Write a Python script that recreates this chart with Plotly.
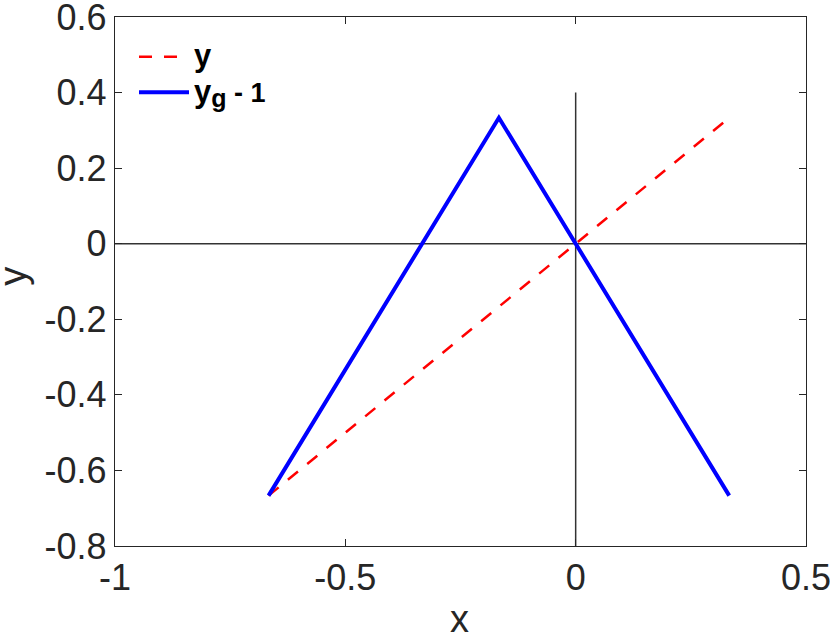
import plotly.graph_objects as go

# data
x_y = [-2/3, 1/3]
y_y = [-2/3, 1/3]
x_g = [-2/3, -1/6, 1/3]
y_g = [-2/3, 1/3, -2/3]
vline_x = [0, 0]
vline_y = [0.4, -0.8]
hline_x = [-1, 0.5]
hline_y = [0, 0]
xticks = [-1, -0.5, 0, 0.5]
yticks = [-0.8, -0.6, -0.4, -0.2, 0, 0.2, 0.4, 0.6]

font_tick = "Liberation Sans, Arial, Helvetica"

fig = go.Figure()
fig.add_trace(go.Scatter(x=hline_x, y=hline_y, mode="lines",
                         line=dict(color="#333333", width=1.5), showlegend=False, hoverinfo="skip"))
fig.add_trace(go.Scatter(x=vline_x, y=vline_y, mode="lines",
                         line=dict(color="#333333", width=1.5), showlegend=False, hoverinfo="skip"))
fig.add_trace(go.Scatter(x=x_y, y=y_y, mode="lines",
                         name="<b><span style='font-size:31px'>y</span></b>",
                         line=dict(color="#ff0000", width=2.5, dash="13px,12px")))
fig.add_trace(go.Scatter(x=x_g, y=y_g, mode="lines",
                         name="<b><span style='font-size:31px'>y</span><sub><span style='font-size:25px'>g</span></sub><span style='font-size:27px'> - 1</span></b>",
                         line=dict(color="#0000ff", width=4)))

axis_common = dict(showline=True, linecolor="#262626", linewidth=1.3, mirror="ticks",
                   ticks="inside", ticklen=7, tickcolor="#262626", tickwidth=1,
                   showgrid=False, zeroline=False, automargin=False,
                   ticklabeloverflow="allow",
                   tickfont=dict(family=font_tick, size=36, color="#262626"))

fig.update_xaxes(range=[-1, 0.5], tickvals=xticks, ticktext=[f"{v:g}" for v in xticks],
                 **axis_common)
fig.update_yaxes(range=[-0.8, 0.6], tickvals=yticks, ticktext=[f"{v:g}" for v in yticks],
                 **axis_common)

fig.add_annotation(text="x", xref="paper", yref="paper", x=0.499, y=-0.138,
                   xanchor="center", yanchor="middle", showarrow=False,
                   font=dict(family=font_tick, size=38, color="#262626"))
fig.add_annotation(text="y", xref="paper", yref="paper", x=-0.147, y=0.51,
                   xanchor="center", yanchor="middle", showarrow=False, textangle=-90,
                   font=dict(family=font_tick, size=38, color="#262626"))

fig.update_layout(
    width=830, height=634,
    margin=dict(l=115, r=24, t=17, b=88),
    plot_bgcolor="white", paper_bgcolor="white",
    legend=dict(x=0.0275, y=0.968, xanchor="left", yanchor="top",
                bgcolor="rgba(0,0,0,0)", borderwidth=0,
                font=dict(family="Liberation Sans, Arial", size=25, color="black"),
                itemwidth=50, tracegroupgap=0),
)

fig.write_html("out.html", config={"displayModeBar": False},
               post_script="document.body.style.margin='0';document.body.style.overflow='hidden';")
